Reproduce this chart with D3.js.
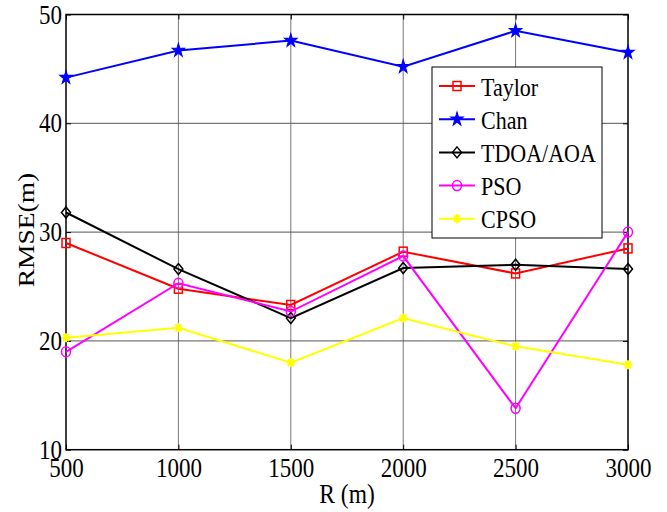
<!DOCTYPE html>
<html>
<head>
<meta charset="utf-8">
<script src="https://cdn.jsdelivr.net/npm/d3@7/dist/d3.min.js"></script>
<style>
  body { margin: 0; background: #fff; }
  text { font-family: "Liberation Serif", "Times New Roman", serif; fill: #000; }
</style>
</head>
<body>
<div id="chart"></div>
<script>
//data
var rValues  = [500, 1000, 1500, 2000, 2500, 3000];
var taylor   = [29.0, 24.8, 23.3, 28.2, 26.2, 28.5];
var chan     = [44.2, 46.7, 47.6, 45.2, 48.5, 46.5];
var tdoaAoa  = [31.8, 26.6, 22.1, 26.7, 27.0, 26.6];
var pso      = [19.0, 25.3, 22.7, 27.8, 13.8, 30.0];
var cpso     = [20.3, 21.2, 18.0, 22.1, 19.5, 17.8];
var xTicks   = [500, 1000, 1500, 2000, 2500, 3000];
var yTicks   = [10, 20, 30, 40, 50];

var series = [
    {name: "Taylor",    values: taylor,  color: "#ff0000", marker: "square"},
    {name: "Chan",      values: chan,    color: "#0000ff", marker: "star"},
    {name: "TDOA/AOA",  values: tdoaAoa, color: "#000000", marker: "diamond"},
    {name: "PSO",       values: pso,     color: "#ff00ff", marker: "circle"},
    {name: "CPSO",      values: cpso,    color: "#ffff00", marker: "asterisk"}
];

var width = 667, height = 512;
var plotL = 66, plotR = 628, plotT = 14.5, plotB = 449.7;
var stretch = 1.17; //text in the picture is a bit taller than wide

var svg = d3.select("#chart")
    .append("svg")
    .attr("width", width)
    .attr("height", height);

var x = d3.scaleLinear().domain([500, 3000]).range([plotL, plotR]);
var y = d3.scaleLinear().domain([10, 50]).range([plotB, plotT]);

//grid
var grid = svg.append("g").attr("class", "grid");
grid.selectAll("line.v")
    .data(xTicks.slice(1, -1)).enter()
    .append("line")
    .attr("x1", function(d) { return x(d); })
    .attr("x2", function(d) { return x(d); })
    .attr("y1", plotT).attr("y2", plotB)
    .style("stroke", "#777")
    .style("stroke-width", 1);
grid.selectAll("line.h")
    .data(yTicks.slice(1, -1)).enter()
    .append("line")
    .attr("y1", function(d) { return y(d); })
    .attr("y2", function(d) { return y(d); })
    .attr("x1", plotL).attr("x2", plotR)
    .style("stroke", "#555")
    .style("stroke-width", 1);

//axes with inward ticks
var xAxis = svg.append("g")
    .attr("transform", "translate(0," + plotB + ")")
    .call(d3.axisBottom(x).tickValues(xTicks).tickSizeInner(-5).tickSizeOuter(0).tickFormat(d3.format("d")));
var yAxis = svg.append("g")
    .attr("transform", "translate(" + plotL + ",0)")
    .call(d3.axisLeft(y).tickValues(yTicks).tickSizeInner(-5).tickSizeOuter(0));
svg.append("g")
    .attr("transform", "translate(0," + plotT + ")")
    .call(d3.axisTop(x).tickValues(xTicks).tickSizeInner(-5).tickSizeOuter(0).tickFormat(""));
svg.append("g")
    .attr("transform", "translate(" + plotR + ",0)")
    .call(d3.axisRight(y).tickValues(yTicks).tickSizeInner(-5).tickSizeOuter(0).tickFormat(""));

svg.selectAll(".domain").remove();
svg.selectAll(".tick line").style("stroke", "#000");

xAxis.selectAll("text")
    .attr("y", 27.3 / stretch)
    .attr("dy", "0")
    .attr("transform", "scale(1," + stretch + ")")
    .style("font-size", "23px")
    .style("font-family", "Liberation Serif");
yAxis.selectAll("text")
    .attr("x", -4)
    .attr("dy", "0")
    .attr("y", 8.5 / stretch)
    .attr("transform", "scale(1," + stretch + ")")
    .style("font-size", "23px")
    .style("font-family", "Liberation Serif");

//frame
svg.append("rect")
    .attr("x", plotL).attr("y", plotT)
    .attr("width", plotR - plotL).attr("height", plotB - plotT)
    .style("fill", "none")
    .style("stroke", "#000")
    .style("stroke-width", 1.5);

//axis titles
svg.append("text")
    .attr("transform", "translate(347,503) scale(1," + stretch + ")")
    .attr("text-anchor", "middle")
    .style("font-size", "23.5px")
    .text("R (m)");
svg.append("text")
    .attr("transform", "translate(34,230) scale(1," + stretch + ") rotate(-90)")
    .attr("text-anchor", "middle")
    .style("font-size", "23.5px")
    .text("RMSE(m)");

//markers
function drawMarker(g, type, color) {
    if (type === "square") {
        g.append("rect").attr("x", -4).attr("y", -4.5).attr("width", 8).attr("height", 9)
            .style("fill", "none").style("stroke", color).style("stroke-width", 1.5);
    } else if (type === "star") {
        g.append("path").attr("d", d3.symbol(d3.symbolStar).size(48)())
            .attr("transform", "scale(1,1.1)")
            .style("fill", color).style("stroke", color).style("stroke-width", 1);
    } else if (type === "diamond") {
        g.append("path").attr("d", "M0,-5.5L4.5,0L0,5.5L-4.5,0Z")
            .style("fill", "none").style("stroke", color).style("stroke-width", 1.5);
    } else if (type === "circle") {
        g.append("ellipse").attr("rx", 4.5).attr("ry", 5)
            .style("fill", "none").style("stroke", color).style("stroke-width", 1.5);
    } else if (type === "asterisk") {
        g.append("path").attr("d", "M-4,0H4M0,-4.5V4.5M-3,-3.4L3,3.4M-3,3.4L3,-3.4")
            .style("fill", "none").style("stroke", color).style("stroke-width", 2);
    }
}

var line = d3.line()
    .x(function(d, i) { return x(rValues[i]); })
    .y(function(d) { return y(d); });

series.forEach(function(s) {
    svg.append("path")
        .datum(s.values)
        .attr("d", line)
        .style("fill", "none")
        .style("stroke", s.color)
        .style("stroke-width", 2);
    s.values.forEach(function(v, i) {
        var g = svg.append("g").attr("transform", "translate(" + x(rValues[i]) + "," + y(v) + ")");
        drawMarker(g, s.marker, s.color);
    });
});

//legend
var legend = svg.append("g").attr("class", "legend");
legend.append("rect")
    .attr("x", 432).attr("y", 67)
    .attr("width", 170).attr("height", 171)
    .style("fill", "#fff")
    .style("stroke", "#000")
    .style("stroke-width", 1);

series.forEach(function(s, i) {
    var ly = 86 + i * 33.2;
    legend.append("line")
        .attr("x1", 439).attr("x2", 475)
        .attr("y1", ly).attr("y2", ly)
        .style("stroke", s.color)
        .style("stroke-width", 2);
    drawMarker(legend.append("g").attr("transform", "translate(457," + ly + ")"), s.marker, s.color);
    legend.append("text")
        .attr("transform", "translate(481," + (ly + 9.5) + ") scale(1," + stretch + ")")
        .style("font-size", "22px")
        .text(s.name);
});
</script>
</body>
</html>
